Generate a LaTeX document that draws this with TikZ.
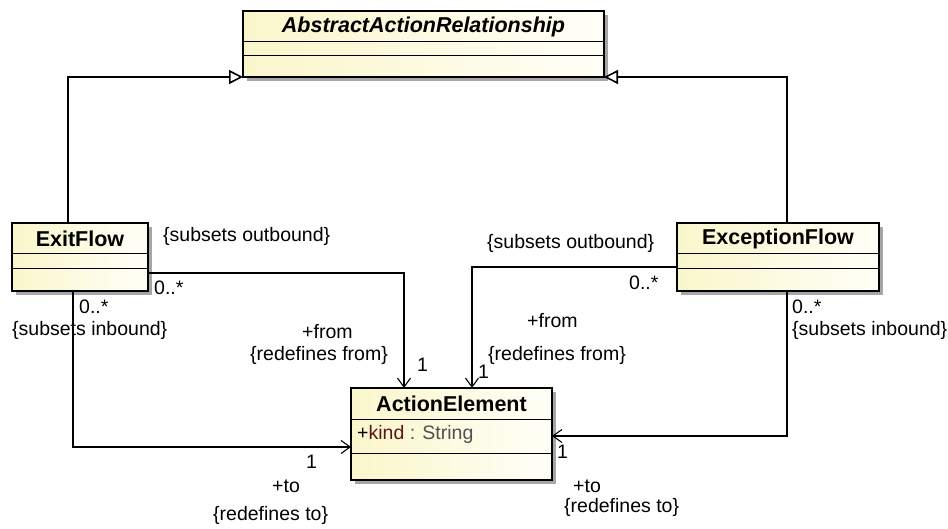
\documentclass[tikz,border=0pt]{standalone}
\usepackage{fontspec}
\setmainfont{Liberation Sans}
\usetikzlibrary{calc,arrows.meta,shadows}

\definecolor{classfill}{RGB}{250,246,203}
\definecolor{classfade}{RGB}{255,255,248}
\definecolor{attrred}{RGB}{95,20,20}
\definecolor{typegray}{RGB}{80,80,80}

\tikzset{
  classbox/.style={draw, line width=1.2pt, inner sep=0pt, outer sep=0pt,
    left color=classfill, right color=classfade,
    drop shadow={shadow xshift=4pt, shadow yshift=-4pt, fill=black!35, opacity=1}},
  sepline/.style={line width=1pt},
  classname/.style={font=\fontsize{21.5}{25}\selectfont\bfseries, inner sep=0pt},
  lbl/.style={font=\fontsize{19.5}{23}\selectfont, inner sep=0pt, anchor=west},
  assoc/.style={line width=1.1pt, -{Straight Barb[length=9pt,width=13pt]}},
  inherit/.style={line width=1.1pt, -{Triangle[open,length=14pt,width=14pt,line width=1.6pt]}},
}

\begin{document}
\begin{tikzpicture}[x=1pt, y=-1pt]
  \useasboundingbox (0,0) rectangle (948,529);

  % classes
  \node[classbox, minimum width=361pt, minimum height=66pt] (abs) at (423.5,44) {};
  \node[classbox, minimum width=136pt, minimum height=68pt] (exit) at (80,257) {};
  \node[classbox, minimum width=202pt, minimum height=68pt] (exc) at (778,257) {};
  \node[classbox, minimum width=201pt, minimum height=92pt] (act) at (451.5,434) {};

  % compartments
  \draw[sepline] ($(abs.north west)+(0,31)$) -- ($(abs.north east)+(0,31)$);
  \draw[sepline] ($(abs.north west)+(0,45)$) -- ($(abs.north east)+(0,45)$);
  \draw[sepline] ($(exit.north west)+(0,31)$) -- ($(exit.north east)+(0,31)$);
  \draw[sepline] ($(exit.north west)+(0,46)$) -- ($(exit.north east)+(0,46)$);
  \draw[sepline] ($(exc.north west)+(0,31)$) -- ($(exc.north east)+(0,31)$);
  \draw[sepline] ($(exc.north west)+(0,46)$) -- ($(exc.north east)+(0,46)$);
  \draw[sepline] ($(act.north west)+(0,31)$) -- ($(act.north east)+(0,31)$);
  \draw[sepline] ($(act.north west)+(0,65)$) -- ($(act.north east)+(0,65)$);

  \node[classname, font=\fontsize{21.5}{25}\selectfont\bfseries\itshape] (absTitle) at ($(abs.north)+(0,15.5)$) {AbstractActionRelationship};
  \node[classname] (exitTitle) at ($(exit.north)+(0,15.5)$) {ExitFlow};
  \node[classname] (excTitle) at ($(exc.north)+(0,15.5)$) {ExceptionFlow};
  \node[classname] (actTitle) at ($(act.north)+(0,15.5)$) {ActionElement};
  \node[lbl] (actKind) at ($(act.north west)+(6,46)$)
    {+\textcolor{attrred}{kind} \textcolor{typegray}{: String}};

  % generalizations
  \coordinate (exitTop) at ($(exit.north west)+(56,0)$);
  \coordinate (excTop) at ($(exc.north west)+(110,0)$);
  \draw[inherit] (exitTop) |- (abs.south west);
  \draw[inherit] (excTop) |- (abs.south east);

  % associations
  \coordinate (exitOutEnd) at ($(exit.north east)+(0,50)$);
  \coordinate (exitInEnd) at ($(exit.south west)+(61,0)$);
  \coordinate (excOutEnd) at ($(exc.north west)+(0,44)$);
  \coordinate (excInEnd) at ($(exc.south west)+(110,0)$);
  \coordinate (actFromA) at ($(act.north west)+(53,0)$);
  \coordinate (actFromB) at ($(act.north west)+(121,0)$);
  \coordinate (actToA) at ($(act.north west)+(0,59)$);
  \coordinate (actToB) at ($(act.north east)+(0,48)$);
  \draw[assoc] (exitOutEnd) -| (actFromA);
  \draw[assoc] (exitInEnd) |- (actToA);
  \draw[assoc] (excOutEnd) -| (actFromB);
  \draw[assoc] (excInEnd) |- (actToB);

  % ends of ExitFlow
  \node[lbl] (exitOut) at (163,236) {\{subsets outbound\}};
  \node[lbl] (exitOutMult) at (154,288) {0..*};
  \node[lbl] (exitInMult) at (79,307) {0..*};
  \node[lbl] (exitIn) at (12,330) {\{subsets inbound\}};
  \node[lbl] (exitFromRole) at (302,332) {+from};
  \node[lbl] (exitFromRed) at (250,355) {\{redefines from\}};
  \node[lbl] (exitFromMult) at (417,365) {1};
  \node[lbl] (exitToMult) at (306,462) {1};
  \node[lbl] (exitToRole) at (272,486) {+to};
  \node[lbl] (exitToRed) at (213,515) {\{redefines to\}};

  % ends of ExceptionFlow
  \node[lbl] (excOut) at (487,243) {\{subsets outbound\}};
  \node[lbl] (excOutMult) at (629,283) {0..*};
  \node[lbl] (excFromRole) at (527,321) {+from};
  \node[lbl] (excFromRed) at (488,355) {\{redefines from\}};
  \node[lbl] (excFromMult) at (478,372) {1};
  \node[lbl] (excInMult) at (792,307) {0..*};
  \node[lbl] (excIn) at (792,330) {\{subsets inbound\}};
  \node[lbl] (excToMult) at (557,452) {1};
  \node[lbl] (excToRole) at (573,486) {+to};
  \node[lbl] (excToRed) at (564,507) {\{redefines to\}};
\end{tikzpicture}
\end{document}
